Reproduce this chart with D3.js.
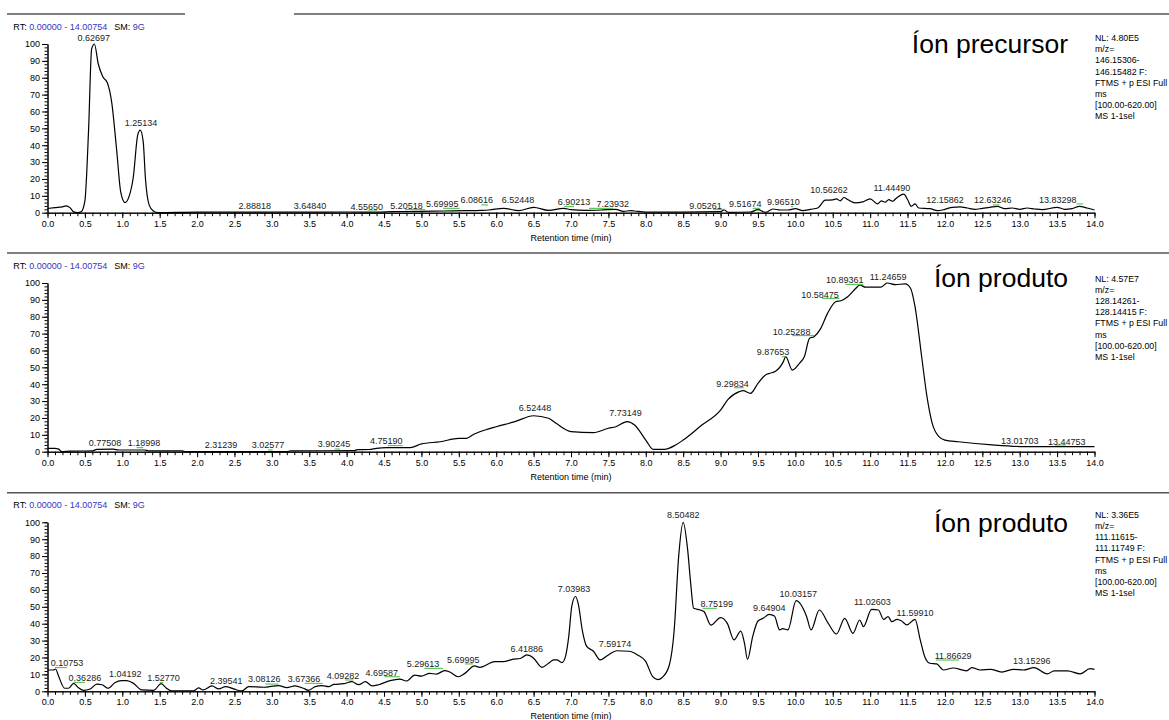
<!DOCTYPE html>
<html>
<head>
<meta charset="utf-8">
<script src="https://cdn.jsdelivr.net/npm/d3@7"></script>
<style>
  body { margin: 0; background: #fff; }
  svg { font-family: "Liberation Sans", Arial, sans-serif; }
  .tick text { font-size: 9px; fill: #000; }
  .tick line, .domain { stroke: #000; }
</style>
</head>
<body>
<div id="chart"></div>
<script>
// ---------- data (time in min, relative abundance %) ----------
var trace1 = [[0,2.5],[0.1,3],[0.2,3.5],[0.25,4],[0.3,3],[0.35,0.5],[0.4,0],[0.45,0.5],[0.5,7],[0.55,50],
  [0.59,97],[0.627,100],[0.68,88],[0.74,80.6],[0.8,77],[0.86,65],[0.925,37],[0.98,12],[1.036,6],[1.09,9.5],
  [1.147,21],[1.206,46],[1.24,49],[1.28,42],[1.31,20],[1.36,4.5],[1.415,1],[1.48,0],[2.0,0.3],[2.5,0.3],
  [3.0,0.3],[3.5,0.3],[4.0,0.4],[4.4,0.4],[4.6,0.6],[5.0,0.8],[5.3,1.0],[5.6,1.2],[5.8,1.4],[5.9,1.6],
  [6.1,2.6],[6.3,1.2],[6.5,3.2],[6.7,1.4],[6.9,2.6],[7.0,1.8],[7.2,1.4],[7.4,1.6],[7.6,2.0],[7.7,0.8],
  [7.8,1.2],[7.85,1.0],[8.0,0.4],[8.5,0.4],[9.0,0.6],[9.05,1.6],[9.1,0.2],[9.4,0.4],[9.5,1.8],[9.6,0.2],
  [9.7,2.2],[9.8,1.6],[9.9,1.6],[10.0,2.4],[10.1,1.2],[10.2,2.0],[10.3,2.8],[10.4,7.4],[10.5,7.6],[10.55,8.2],
  [10.6,7],[10.65,9],[10.7,7.8],[10.8,5.8],[10.9,6.4],[11.0,8.2],[11.1,5.2],[11.15,7],[11.2,6.2],[11.25,7.8],
  [11.3,6.8],[11.35,8.6],[11.45,11],[11.5,7.8],[11.55,3.8],[11.6,5.2],[11.65,2.8],[11.8,2.4],[11.9,1.2],[12.0,2],
  [12.1,3.2],[12.2,3.4],[12.3,2.8],[12.4,2],[12.5,2.6],[12.6,3.2],[12.7,3.8],[12.8,2.4],[12.9,2.8],[13.0,2],
  [13.1,2.8],[13.2,2.2],[13.3,1.8],[13.5,3.2],[13.6,2],[13.7,2.4],[13.8,3.8],[13.9,2.8],[14.0,1.6]];

var trace2 = [[0,2],[0.1,2],[0.15,1.5],[0.19,0],[0.3,0.3],[0.6,0.5],[0.66,1.4],[0.88,1.5],[0.95,1],[1.3,1],
  [1.35,0.5],[1.8,0.5],[1.85,0],[3.2,0],[3.25,0.5],[4.1,0.6],[4.15,1.2],[4.3,1.3],[4.4,2],[4.53,2.4],
  [4.85,2.4],[5.0,4.6],[5.25,5.9],[5.5,7.9],[5.6,7.9],[5.7,10.3],[5.9,13.5],[6.0,14.8],[6.25,17.8],[6.5,21.3],
  [6.7,19.8],[6.8,16.8],[7.0,11.9],[7.3,11.3],[7.5,13.9],[7.6,14.8],[7.75,17.8],[7.85,15.8],[8.0,6.9],[8.1,1.4],
  [8.25,1.4],[8.4,4],[8.5,6.9],[8.75,15.8],[9.0,24.7],[9.1,31],[9.25,35.6],[9.3,36.2],[9.4,34.6],[9.5,40.5],
  [9.6,45.5],[9.66,46.5],[9.73,47.5],[9.84,53.4],[9.87,56.3],[9.96,48.4],[10.06,52.7],[10.12,56.3],[10.19,67.2],[10.25,68.2],
  [10.34,73.1],[10.43,82],[10.54,88.9],[10.61,89.5],[10.7,91.9],[10.81,96.9],[10.86,98.8],[10.94,97.5],[11.05,97.5],[11.14,97.5],
  [11.23,100],[11.34,99],[11.47,99.5],[11.54,96.9],[11.6,86],[11.69,56],[11.76,32.6],[11.83,16.8],[11.92,8.9],[12.0,6.9],
  [12.18,5.9],[12.63,4],[13.07,3],[13.5,3],[14.0,3]];

var trace3 = [[0,12.6],[0.08,12.6],[0.11,13.2],[0.14,10],[0.23,1.8],[0.28,1.8],[0.35,4.7],[0.41,2.2],[0.48,0.6],[0.57,1.4],
  [0.66,4.3],[0.73,3.9],[0.81,1.8],[0.9,5.1],[0.99,6.3],[1.06,6.3],[1.15,4.7],[1.26,0.8],[1.42,0.6],[1.52,4.5],
  [1.59,1.8],[1.66,0.2],[1.95,0.2],[2.02,2],[2.08,0.8],[2.2,3.2],[2.29,1.4],[2.38,2.8],[2.49,1.4],[2.6,0.2],
  [2.69,2.8],[2.89,2.4],[3.09,3.4],[3.2,2.2],[3.31,3.2],[3.42,1.8],[3.49,0.6],[3.58,2.8],[3.67,3.4],[3.76,2.8],
  [3.83,4.1],[3.96,4.5],[4.07,5.7],[4.16,3.9],[4.25,5.7],[4.34,3.2],[4.43,3.9],[4.58,6.3],[4.71,7.2],[4.8,6.1],
  [4.91,9.6],[5.0,9],[5.11,10.6],[5.2,10.2],[5.31,12.2],[5.38,11.4],[5.49,8.6],[5.58,10.6],[5.71,15],[5.78,14.2],
  [5.98,17.6],[6.09,17.6],[6.23,19],[6.32,19.4],[6.41,21.5],[6.5,19.6],[6.61,14.2],[6.7,16.6],[6.77,18.6],[6.81,18.6],
  [6.88,17],[6.92,19.6],[6.97,32.5],[7.01,50.2],[7.06,56.1],[7.1,51.2],[7.15,36.4],[7.21,26.6],[7.3,23.7],[7.39,18.6],
  [7.5,21.5],[7.61,24],[7.78,23.7],[7.89,21.5],[8.0,17.6],[8.09,8.8],[8.16,6.9],[8.22,8.2],[8.31,14.8],[8.38,36.4],
  [8.44,80],[8.5,100],[8.56,83.7],[8.6,64],[8.64,49.1],[8.73,48.1],[8.78,47.1],[8.87,39.2],[9.0,43.6],[9.09,40.2],
  [9.18,30.4],[9.27,35.6],[9.32,28.4],[9.36,18.9],[9.43,32.5],[9.5,41.6],[9.57,43.2],[9.65,45.5],[9.72,44.5],[9.79,36.3],
  [9.83,37.1],[9.9,36.3],[10.01,53.6],[10.15,44.3],[10.21,36.3],[10.32,48.1],[10.44,40.2],[10.55,33.9],[10.66,43.2],[10.77,34.3],
  [10.86,42.2],[10.91,38.3],[11.02,48.5],[11.11,48.1],[11.18,42.6],[11.24,44.2],[11.29,41.2],[11.36,42.6],[11.42,41.6],[11.49,39.3],
  [11.6,42.6],[11.67,30.4],[11.73,20.5],[11.8,16.6],[11.89,16.2],[11.98,12.6],[12.11,13.8],[12.29,12.1],[12.36,14],[12.47,12.6],
  [12.61,13],[12.76,11.4],[12.92,13],[13.05,12.6],[13.19,14],[13.37,10.3],[13.46,12.1],[13.64,12.1],[13.81,10.3],[13.94,13.4],[14.0,13]];

// peak labels: [text, time, abundance] (where the label sits)
var labels1 = [["0.62697",0.62,103.7],["1.25134",1.25,53],["2.88818",2.77,4],["3.64840",3.51,4],["4.55650",4.27,3.7],
  ["5.20518",4.80,4.1],["5.69995",5.28,5],["6.08616",5.74,7.4],["6.52448",6.29,7.4],["6.90213",7.04,6.2],
  ["7.23932",7.56,5.2],["9.05261",8.80,4],["9.51674",9.33,5.2],["9.96510",9.84,6.2],["10.56262",10.45,13.3],
  ["11.44490",11.29,14.8],["12.15862",12.0,7.5],["12.63246",12.64,7.5],["13.83298",13.51,7.5]];
var labels2 = [["0.77508",0.77,5.3],["1.18998",1.29,5],["2.31239",2.32,4],["3.02577",2.95,4],["3.90245",3.83,4.6],
  ["4.75190",4.53,6.3],["6.52448",6.52,25.7],["7.73149",7.73,22.8],["9.29834",9.16,40.5],["9.87653",9.70,59.1],
  ["10.25288",9.95,71.1],["10.58475",10.33,92.9],["10.89361",10.66,101.8],["11.24659",11.24,103.4],
  ["13.01703",13.0,6.3],["13.44753",13.63,5.9]];
var labels3 = [["0.10753",0.26,16.6],["0.36286",0.50,7.7],["1.04192",1.04,10.2],["1.52770",1.55,7.7],["2.39541",2.39,6.3],
  ["3.08126",2.90,7.1],["3.67366",3.43,7.1],["4.09282",3.95,9.1],["4.69587",4.47,10.7],["5.29613",5.02,16.2],
  ["5.69995",5.56,18.5],["6.41886",6.41,24.9],["7.03983",7.04,60.5],["7.59174",7.59,28],["8.50482",8.50,104.3],
  ["8.75199",8.95,51.7],["9.64904",9.65,49.1],["10.03157",10.04,57.4],["11.02603",11.03,52.7],["11.59910",11.60,46.7],
  ["11.86629",12.11,20.9],["13.15296",13.16,17.9]];

// green peak marks: [t start, t end, abundance]
var marks1 = [[4.28,4.41,1.0],[4.78,5.05,1.8],[5.29,5.51,2.6],[5.80,5.89,4.6],[6.91,7.04,3.6],[7.24,7.56,2.6],
  [8.90,9.06,2.0],[9.43,9.53,2.6],[9.94,9.97,3.6],[12.64,12.73,4.6],[13.76,13.85,5.2]];
var marks2 = [[1.19,1.28,2.4],[2.95,3.01,1.0],[3.84,3.91,1.6],[4.55,4.75,3.6],[9.18,9.31,37.9],[9.82,9.87,56.3],
  [9.96,10.25,68.8],[10.36,10.59,90.9],[10.67,10.91,99.2],[13.47,13.62,4.0]];
var marks3 = [[0.10,0.26,14.0],[0.35,0.50,5.3],[1.50,1.55,5.1],[2.91,3.09,4.3],[3.44,3.68,4.7],[3.98,4.09,6.7],
  [4.51,4.71,8.6],[5.04,5.29,13.6],[5.58,5.69,16.2],[8.76,8.95,49.1],[11.88,12.19,18.5]];

var titles = ["Íon precursor", "Íon produto", "Íon produto"];
var info1 = ["NL: 4.80E5","m/z=","146.15306-","146.15482 F:","FTMS + p ESI Full","ms","[100.00-620.00]","MS 1-1sel"];
var info2 = ["NL: 4.57E7","m/z=","128.14261-","128.14415 F:","FTMS + p ESI Full","ms","[100.00-620.00]","MS 1-1sel"];
var info3 = ["NL: 3.36E5","m/z=","111.11615-","111.11749 F:","FTMS + p ESI Full","ms","[100.00-620.00]","MS 1-1sel"];
var xMajor = d3.range(0, 14.01, 0.5);
var xMinor = d3.range(0, 14.01, 0.1);
var yMajor = d3.range(0, 101, 10);
var yMinor = d3.range(0, 101, 2);

// ---------- layout ----------
var W = 1169, H = 720;
var panels = [
  {trace: trace1, labels: labels1, marks: marks1, info: info1, title: titles[0], y0: 212.7, y100: 44, titleDy: 9, infoDy: -3},
  {trace: trace2, labels: labels2, marks: marks2, info: info2, title: titles[1], y0: 451.7, y100: 283, titleDy: 4, infoDy: -1.5},
  {trace: trace3, labels: labels3, marks: marks3, info: info3, title: titles[2], y0: 691.3, y100: 522.3, titleDy: 9.5, infoDy: -4.5}
];

var svg = d3.select("#chart").append("svg")
    .attr("width", W)
    .attr("height", H);

var x = d3.scaleLinear().domain([0, 14]).range([47.5, 1094.5]);

///////////// separators /////////////
var sepLines = [[7, 185, 14], [294, W, 14], [7, W, 253], [7, W, 492.7]];
svg.selectAll("line.sep")
    .data(sepLines)
    .enter().append("line")
    .attr("class", "sep")
    .attr("x1", function(d) { return d[0]; })
    .attr("x2", function(d) { return d[1]; })
    .attr("y1", function(d) { return d[2]; })
    .attr("y2", function(d) { return d[2]; })
    .attr("stroke", "#555")
    .attr("stroke-width", 1.4);

panels.forEach(function(p) {
  var y = d3.scaleLinear().domain([0, 100]).range([p.y0, p.y100]);
  var g = svg.append("g");

  ///////////// axes /////////////
  g.append("g")
      .attr("transform", "translate(0," + p.y0 + ")")
      .call(d3.axisBottom(x).tickValues(xMinor).tickSize(3.5).tickSizeOuter(0).tickFormat(""));
  g.append("g")
      .attr("transform", "translate(0," + p.y0 + ")")
      .call(d3.axisBottom(x).tickValues(xMajor).tickSize(5.5).tickSizeOuter(0).tickPadding(2).tickFormat(d3.format(".1f")));
  g.append("g")
      .attr("transform", "translate(47.5,0)")
      .call(d3.axisLeft(y).tickValues(yMinor).tickSize(3).tickSizeOuter(0).tickFormat(""));
  g.append("g")
      .attr("transform", "translate(47.5,0)")
      .call(d3.axisLeft(y).tickValues(yMajor).tickSize(5.5).tickSizeOuter(0).tickPadding(2));

  g.append("text")
      .attr("x", (x(0) + x(14)) / 2)
      .attr("y", p.y0 + 28)
      .attr("text-anchor", "middle")
      .attr("font-size", "9px")
      .text("Retention time (min)");

  ///////////// RT header /////////////
  var rt = g.append("text")
      .attr("x", 13.3)
      .attr("y", p.y100 - 14)
      .attr("font-size", "9px");
  rt.append("tspan").attr("fill", "#000").text("RT: ");
  rt.append("tspan").attr("fill", "#3535c4").text("0.00000 - 14.00754");
  rt.append("tspan").attr("fill", "#000").attr("dx", 7).text("SM: ");
  rt.append("tspan").attr("fill", "#3535c4").text("9G");

  ///////////// trace /////////////
  var line = d3.line()
      .x(function(d) { return x(d[0]); })
      .y(function(d) { return y(d[1]); })
      .curve(d3.curveMonotoneX);
  g.append("path")
      .datum(p.trace)
      .attr("d", line)
      .attr("fill", "none")
      .attr("stroke", "#000")
      .attr("stroke-width", 1.2);

  ///////////// green peak marks /////////////
  g.selectAll("line.mark")
      .data(p.marks)
      .enter().append("line")
      .attr("class", "mark")
      .attr("x1", function(d) { return x(d[0]); })
      .attr("x2", function(d) { return x(d[1]); })
      .attr("y1", function(d) { return y(d[2]); })
      .attr("y2", function(d) { return y(d[2]); })
      .attr("stroke", "#3cbf3c")
      .attr("stroke-width", 1);

  ///////////// peak labels /////////////
  g.selectAll("text.peak")
      .data(p.labels)
      .enter().append("text")
      .attr("class", "peak")
      .attr("x", function(d) { return x(d[1]); })
      .attr("y", function(d) { return y(d[2]); })
      .attr("dy", "0.35em")
      .attr("text-anchor", "middle")
      .attr("font-size", "9px")
      .attr("fill", "#222")
      .text(function(d) { return d[0]; });

  ///////////// title + info /////////////
  g.append("text")
      .attr("x", 1068)
      .attr("y", p.y100 + p.titleDy)
      .attr("text-anchor", "end")
      .attr("font-size", "26.5px")
      .attr("fill", "#000")
      .text(p.title);

  g.selectAll("text.info")
      .data(p.info)
      .enter().append("text")
      .attr("class", "info")
      .attr("x", 1095)
      .attr("y", function(d, i) { return p.y100 + p.infoDy + i * 11.2; })
      .attr("font-size", "8.8px")
      .attr("fill", "#000")
      .text(function(d) { return d; });
});
</script>
</body>
</html>
